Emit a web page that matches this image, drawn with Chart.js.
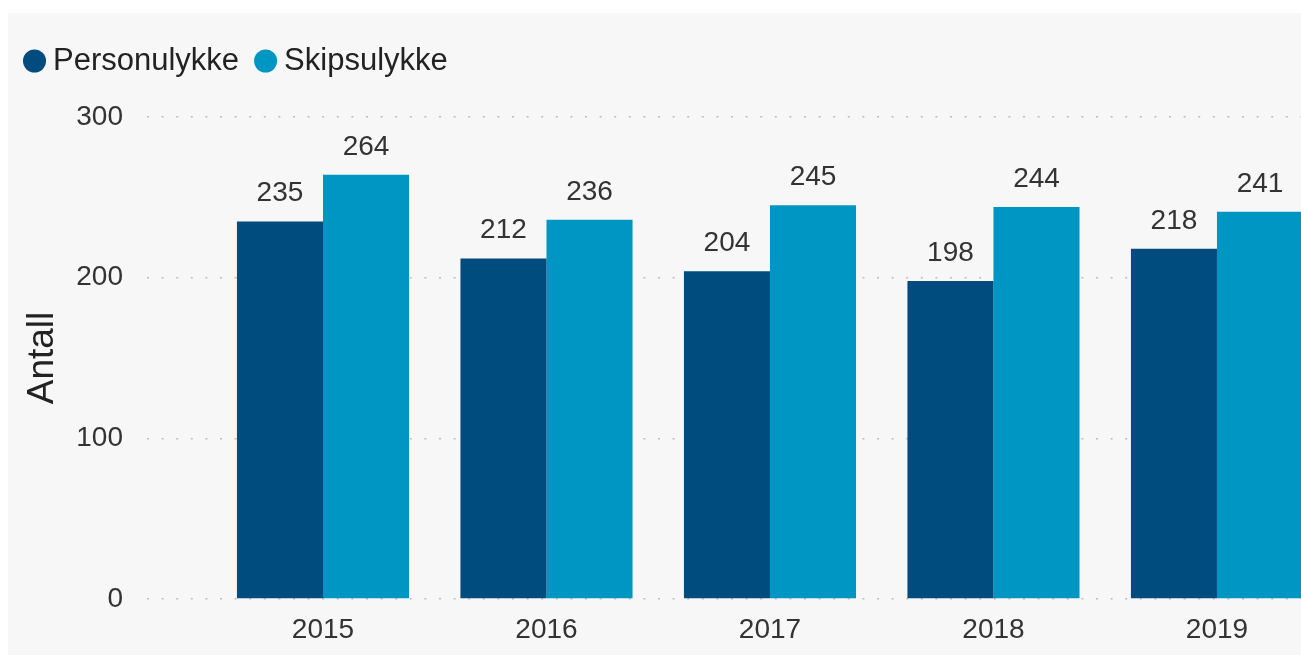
<!DOCTYPE html>
<html>
<head>
<meta charset="utf-8">
<script src="https://cdn.jsdelivr.net/npm/chart.js@4/dist/chart.umd.min.js"></script>
<style>
  body { margin: 0; background: #ffffff; }
  #panel { position: absolute; left: 8px; top: 13px; width: 1293px; height: 642px; background: #f7f7f7; }
</style>
</head>
<body>
<div id="panel"><canvas id="accidentChart"></canvas></div>
<script>
const years = ["2015", "2016", "2017", "2018", "2019"];
const personulykke = [235, 212, 204, 198, 218];
const skipsulykke = [264, 236, 245, 244, 241];
const yTicks = [0, 100, 200, 300];

const FONT = "'Liberation Sans', Arial, sans-serif";

// stretch the legend box so the plot starts lower
const legendSpacer = {
  id: "legendSpacer",
  beforeInit(chart) {
    const fit = chart.legend.fit;
    chart.legend.fit = function () {
      fit.bind(chart.legend)();
      this.height += 30.5;
    };
  }
};

// value labels above each bar
const barLabels = {
  id: "barLabels",
  afterDatasetsDraw(chart) {
    const ctx = chart.ctx;
    ctx.save();
    ctx.font = "28px " + FONT;
    ctx.fillStyle = "#333333";
    ctx.textAlign = "center";
    ctx.textBaseline = "alphabetic";
    chart.data.datasets.forEach((ds, i) => {
      chart.getDatasetMeta(i).data.forEach((bar, j) => {
        ctx.fillText(ds.data[j].y, bar.x, bar.y - 20);
      });
    });
    ctx.restore();
  }
};

const toPoints = (values) => values.map((v, i) => ({ x: i, y: v }));

new Chart(document.getElementById("accidentChart"), {
  type: "bar",
  data: {
    datasets: [
      {
        label: "Personulykke",
        data: toPoints(personulykke),
        backgroundColor: "#004c7f",
        barPercentage: 1,
        categoryPercentage: 0.77,
      },
      {
        label: "Skipsulykke",
        data: toPoints(skipsulykke),
        backgroundColor: "#0096c4",
        barPercentage: 1,
        categoryPercentage: 0.77,
      },
    ],
  },
  options: {
    responsive: true,
    maintainAspectRatio: false,
    animation: false,
    events: [],
    layout: { padding: { left: 0, top: 9, right: 0, bottom: 0 } },
    plugins: {
      legend: {
        position: "top",
        align: "start",
        labels: {
          usePointStyle: true,
          pointStyle: "circle",
          boxWidth: 6,
          boxHeight: 16.3,
          padding: 23.5,
          color: "#222222",
          font: { family: FONT, size: 31 },
        },
      },
      tooltip: { enabled: false },
    },
    scales: {
      x: {
        type: "linear",
        offset: false,
        min: -0.7875,
        max: 4.376,
        afterBuildTicks: (scale) => {
          scale.ticks = years.map((y, i) => ({ value: i }));
        },
        afterFit: (scale) => { scale.height = 56; },
        grid: { display: false },
        border: { display: false },
        ticks: {
          padding: 6,
          maxRotation: 0,
          autoSkip: false,
          color: "#333333",
          font: { family: FONT, size: 28 },
          callback: (value) => years[value],
        },
      },
      y: {
        min: 0,
        max: 300,
        afterBuildTicks: (scale) => {
          scale.ticks = yTicks.map((v) => ({ value: v }));
        },
        afterFit: (scale) => { scale.width = 139; },
        border: { display: false, dash: [2, 12.6] },
        grid: {
          color: "#bdbdbd",
          lineWidth: 1.5,
          drawTicks: false,
        },
        ticks: {
          padding: 24,
          color: "#333333",
          font: { family: FONT, size: 28 },
        },
        title: {
          display: true,
          text: "Antall",
          color: "#222222",
          padding: { top: 13, bottom: 0 },
          font: { family: FONT, size: 37 },
        },
      },
    },
  },
  plugins: [legendSpacer, barLabels],
});
</script>
</body>
</html>
